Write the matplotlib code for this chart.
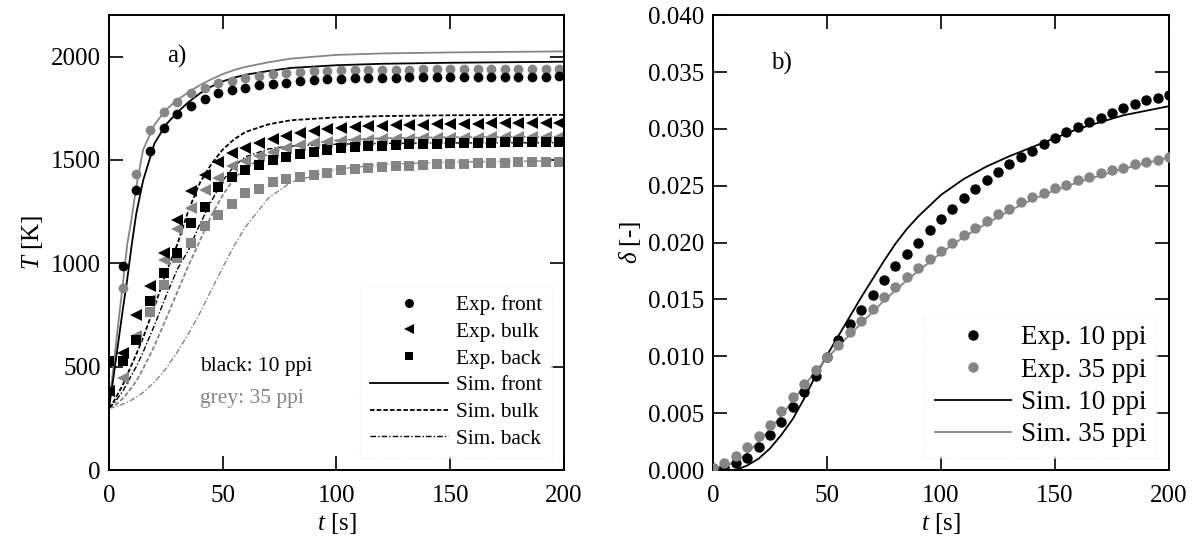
import matplotlib
matplotlib.use("Agg")
import matplotlib.pyplot as plt
from matplotlib.lines import Line2D

plt.rcParams['font.family'] = ['Liberation Serif', 'DejaVu Serif']
plt.rcParams['mathtext.fontset'] = 'custom'
plt.rcParams['mathtext.it'] = 'Liberation Serif:italic'
plt.rcParams['mathtext.rm'] = 'Liberation Serif'

GREY = '#858585'

# ---------------- panel a data ----------------
t_exp_a = list(range(0, 199, 6))
front_10 = [380, 985, 1355, 1542, 1655, 1723, 1762, 1795, 1822, 1836, 1850, 1860, 1868, 1874, 1880, 1885,
            1889, 1892, 1894, 1896, 1897, 1898, 1899, 1899, 1900, 1900, 1901, 1901, 1902, 1902, 1903, 1903,
            1903, 1904]
front_35 = [380, 880, 1433, 1643, 1733, 1781, 1822, 1849, 1872, 1884, 1897, 1907, 1916, 1921, 1925, 1928,
            1931, 1933, 1934, 1935, 1936, 1937, 1937, 1938, 1938, 1939, 1939, 1940, 1940, 1940, 1941, 1941,
            1941, 1941]
bulk_10 = [380, 566, 750, 890, 1048, 1210, 1348, 1428, 1491, 1532, 1560, 1583, 1602, 1617, 1630, 1641,
           1650, 1655, 1659, 1662, 1665, 1667, 1669, 1671, 1672, 1674, 1675, 1676, 1677, 1678, 1679, 1679,
           1680, 1680]
bulk_35 = [380, 445, 650, 820, 1018, 1166, 1268, 1355, 1413, 1470, 1495, 1518, 1540, 1556, 1570, 1580,
           1587, 1591, 1594, 1597, 1599, 1601, 1603, 1604, 1605, 1606, 1607, 1608, 1609, 1610, 1610, 1611,
           1611, 1612]
back_10 = [528, 528, 630, 818, 953, 1050, 1195, 1273, 1368, 1418, 1452, 1476, 1500, 1515, 1530, 1540,
           1549, 1556, 1561, 1565, 1569, 1572, 1575, 1577, 1579, 1580, 1582, 1583, 1584, 1585, 1586, 1587,
           1587, 1588]
back_35 = [528, 528, 629, 765, 895, 1026, 1099, 1178, 1234, 1288, 1338, 1360, 1394, 1408, 1418, 1428,
           1438, 1452, 1458, 1463, 1467, 1470, 1473, 1476, 1478, 1480, 1482, 1484, 1486, 1487, 1488, 1489,
           1490, 1491]

t_sim_a = [0, 2, 4, 6, 8, 10, 12, 15, 20, 25, 30, 35, 40, 45, 50, 55, 60, 70, 80, 100, 120, 150, 200]
sim_front_10 = [300, 450, 610, 770, 920, 1090, 1240, 1400, 1580, 1670, 1730, 1780, 1822, 1855, 1880, 1898,
                1912, 1930, 1945, 1958, 1965, 1970, 1975]
sim_front_35 = [300, 500, 700, 890, 1089, 1220, 1370, 1549, 1670, 1742, 1790, 1828, 1862, 1890, 1915, 1935,
                1950, 1972, 1990, 2008, 2015, 2020, 2025]
sim_bulk_10 = [300, 330, 370, 410, 460, 510, 560, 640, 790, 950, 1090, 1258, 1390, 1480, 1550, 1600, 1635,
               1672, 1692, 1706, 1712, 1716, 1718]
sim_bulk_35 = [300, 310, 325, 345, 370, 400, 430, 490, 600, 730, 860, 990, 1110, 1230, 1330, 1410, 1460,
               1530, 1565, 1595, 1605, 1610, 1612]
sim_back_10 = [300, 320, 350, 380, 420, 460, 500, 570, 700, 840, 970, 1065, 1190, 1300, 1400, 1470, 1515,
               1553, 1567, 1576, 1580, 1582, 1583]
sim_back_35 = [300, 303, 310, 318, 328, 339, 352, 375, 425, 490, 570, 660, 760, 870, 980, 1085, 1175,
               1315, 1392, 1455, 1478, 1490, 1496]

# ---------------- panel b data ----------------
t_exp_b = list(range(0, 201, 5))
delta_10 = [0.0002, 0.0003, 0.0006, 0.0011, 0.0020, 0.0031, 0.0042, 0.0055, 0.0069, 0.0083, 0.0099,
            0.0114, 0.0128, 0.0141, 0.0154, 0.0167, 0.0179, 0.0190, 0.0200, 0.0211, 0.0221, 0.0230,
            0.0239, 0.0247, 0.0255, 0.0262, 0.0269, 0.0275, 0.0281, 0.0287, 0.0292, 0.0297, 0.0302,
            0.0306, 0.0310, 0.0314, 0.0318, 0.0322, 0.0325, 0.03275, 0.0330]
delta_35 = [0.0002, 0.0006, 0.0012, 0.0020, 0.0030, 0.0040, 0.0052, 0.0064, 0.0076, 0.0088, 0.0099,
            0.0110, 0.0121, 0.0131, 0.0142, 0.0152, 0.0161, 0.0170, 0.0178, 0.0186, 0.0193, 0.0200,
            0.0207, 0.0213, 0.0219, 0.0225, 0.0230, 0.0236, 0.0240, 0.0244, 0.0248, 0.0251, 0.0255,
            0.0258, 0.0261, 0.0264, 0.0266, 0.0269, 0.0271, 0.0273, 0.0275]
t_sim_b = [0, 10, 15, 20, 25, 30, 35, 40, 45, 50, 55, 60, 65, 70, 75, 80, 85, 90, 100, 110, 120, 130, 140,
           150, 160, 170, 180, 190, 200]
sim_delta_10 = [0.0, 0.0, 0.0004, 0.0010, 0.0019, 0.0031, 0.0045, 0.0063, 0.0083, 0.0101, 0.0118,
                0.0135, 0.0152, 0.0168, 0.0184, 0.0199, 0.0212, 0.0223, 0.0242, 0.0256, 0.0267, 0.0276,
                0.0284, 0.0292, 0.0300, 0.0306, 0.0312, 0.0316, 0.0320]
sim_delta_35 = [0.0, 0.0007, 0.0015, 0.0025, 0.0036, 0.0048, 0.0061, 0.0074, 0.0087, 0.0098, 0.0109,
                0.0119, 0.0129, 0.0139, 0.0149, 0.0158, 0.0167, 0.0175, 0.0191, 0.0205, 0.0217, 0.0228,
                0.0238, 0.0246, 0.0253, 0.0259, 0.0265, 0.0270, 0.0275]

FS = 18
fig = plt.figure(figsize=(12, 5.43), dpi=100)
axa = fig.add_axes([0.0908, 0.1344, 0.3792, 0.8376])
axb = fig.add_axes([0.5942, 0.1344, 0.3800, 0.8376])

BULK_DASH = (0, (2.5, 1.2))
BACK_DASH = (0, (4, 1.5, 1, 1.5))
lw = 1.3

# simulation lines
axa.plot(t_sim_a, sim_front_35, color=GREY, lw=lw, ls='-')
axa.plot(t_sim_a, sim_bulk_35, color=GREY, lw=lw, ls=BULK_DASH)
axa.plot(t_sim_a, sim_back_35, color=GREY, lw=1.0, ls=BACK_DASH)
axa.plot(t_sim_a, sim_front_10, color='black', lw=lw, ls='-')
axa.plot(t_sim_a, sim_bulk_10, color='black', lw=lw, ls=BULK_DASH)
axa.plot(t_sim_a, sim_back_10, color='black', lw=1.0, ls=BACK_DASH)

ms = 7
axa.plot(t_exp_a, front_35, 'o', color=GREY, ms=ms, mew=0)
axa.plot(t_exp_a, bulk_35, '<', color=GREY, ms=ms + 1, mew=0)
axa.plot(t_exp_a, back_35, 's', color=GREY, ms=ms - 0.5, mew=0)
axa.plot(t_exp_a, front_10, 'o', color='black', ms=ms, mew=0)
axa.plot(t_exp_a, bulk_10, '<', color='black', ms=ms + 1, mew=0)
axa.plot(t_exp_a, back_10, 's', color='black', ms=ms - 0.5, mew=0)

axa.set_xlim(0, 200)
axa.set_ylim(0, 2200)
axa.set_xticks([0, 50, 100, 150, 200])
axa.set_yticks([0, 500, 1000, 1500, 2000])
axa.set_xlabel('$t$ [s]', fontsize=FS, labelpad=3)
axa.set_ylabel('$T$ [K]', fontsize=FS, labelpad=4)
axa.text(30, 2000, 'a)', fontsize=FS, ha='center', va='center')
axa.text(40, 500, 'black: 10 ppi', fontsize=15.5, color='black', ha='left', va='center')
axa.text(40, 345, 'grey: 35 ppi', fontsize=15.5, color=GREY, ha='left', va='center')

handles_a = [
    Line2D([], [], ls='none', marker='o', color='black', ms=ms - 0.5, mew=0),
    Line2D([], [], ls='none', marker='<', color='black', ms=ms + 0.5, mew=0),
    Line2D([], [], ls='none', marker='s', color='black', ms=ms - 1, mew=0),
    Line2D([], [], ls='-', color='black', lw=lw),
    Line2D([], [], ls=BULK_DASH, color='black', lw=lw),
    Line2D([], [], ls=BACK_DASH, color='black', lw=1.0),
]
labels_a = ['Exp. front', 'Exp. bulk', 'Exp. back', 'Sim. front', 'Sim. bulk', 'Sim. back']
lega = axa.legend(handles_a, labels_a, loc='lower right', fontsize=15.3, frameon=True, fancybox=False,
                  handlelength=3.7, handletextpad=0.38, labelspacing=0.32, borderpad=0.45,
                  borderaxespad=0.0, bbox_to_anchor=(0.974, 0.026))
lega.get_frame().set_edgecolor('#e6e6e6')
lega.get_frame().set_linewidth(0.8)
lega.get_frame().set_linestyle(':')

# panel b
axb.plot(t_sim_b, sim_delta_10, color='black', lw=lw)
axb.plot(t_sim_b, sim_delta_35, color=GREY, lw=lw)
axb.plot(t_exp_b, delta_10, 'o', color='black', ms=7.5, mew=0, zorder=3)
axb.plot(t_exp_b, delta_35, 'o', color=GREY, ms=7.5, mew=0, zorder=3)
axb.set_xlim(0, 200)
axb.set_ylim(0, 0.040)
axb.set_xticks([0, 50, 100, 150, 200])
axb.set_yticks([0.000, 0.005, 0.010, 0.015, 0.020, 0.025, 0.030, 0.035, 0.040])
axb.set_yticklabels(['%.3f' % v for v in axb.get_yticks()])
axb.set_xlabel('$t$ [s]', fontsize=FS, labelpad=3)
axb.set_ylabel(r'$\delta$ [-]', fontsize=FS, labelpad=4)
axb.text(30, 0.0358, 'b)', fontsize=FS, ha='center', va='center')

handles_b = [
    Line2D([], [], ls='none', marker='o', color='black', ms=7.5, mew=0),
    Line2D([], [], ls='none', marker='o', color=GREY, ms=7.5, mew=0),
    Line2D([], [], ls='-', color='black', lw=lw),
    Line2D([], [], ls='-', color=GREY, lw=lw),
]
labels_b = ['Exp. 10 ppi', 'Exp. 35 ppi', 'Sim. 10 ppi', 'Sim. 35 ppi']
legb = axb.legend(handles_b, labels_b, loc='lower right', fontsize=19.5, frameon=True, fancybox=False,
                  handlelength=2.8, handletextpad=0.37, labelspacing=0.27, borderpad=0.4,
                  borderaxespad=0.0, bbox_to_anchor=(0.974, 0.026))
legb.get_frame().set_edgecolor('#e6e6e6')
legb.get_frame().set_linewidth(0.8)
legb.get_frame().set_linestyle(':')

for ax in (axa, axb):
    ax.tick_params(direction='in', length=10, width=1.2, top=True, right=True, labelsize=FS)
    ax.tick_params(axis='x', pad=11)
    ax.tick_params(axis='y', pad=6)
    for s in ax.spines.values():
        s.set_linewidth(1.4)

fig.savefig('out.png', dpi=100)
